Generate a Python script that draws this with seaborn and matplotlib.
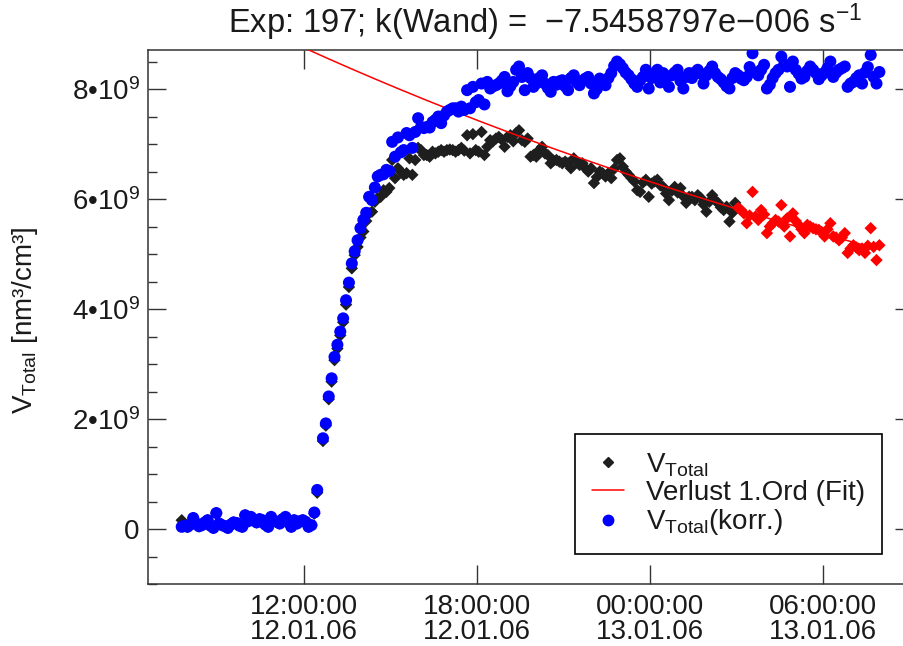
import numpy as np
import pandas as pd
import matplotlib
matplotlib.use("Agg")
import matplotlib.pyplot as plt
import matplotlib.dates as mdates
from matplotlib.lines import Line2D
from matplotlib.ticker import MultipleLocator, FixedLocator, FuncFormatter
import seaborn as sns

# ---- measurement data -------------------------------------------------
exp_no = 197
start_time = "2006-01-12 07:45:30"      # first sample
sample_step = "6min"                     # sampling interval
fit_start = "2006-01-13 03:00:00"        # begin of the fit window (red)
fit_ref_time = "2006-01-12 12:00:00"     # reference time of fit amplitude
fit_amplitude = 8.75                     # 1e9 nm³/cm³ at fit_ref_time
k_wand = -7.5458797e-6                   # wall loss rate, s^-1

# total volume concentration, 1e9 nm³/cm³
v_total = [
    0.16, 0.06, 0.04, 0.08, 0.20, 0.10, 0.05, 0.07, 0.12, 0.16,
    0.06, 0.02, 0.29, 0.10, 0.07, 0.05, 0.02, 0.08, 0.12, 0.11,
    0.06, 0.04, 0.25, 0.14, 0.22, 0.16, 0.12, 0.18, 0.16, 0.08,
    0.04, 0.22, 0.15, 0.13, 0.10, 0.18, 0.22, 0.12, 0.04, 0.16,
    0.10, 0.14, 0.16, 0.13, 0.04, 0.07, 0.28, 0.66, np.nan, 1.60,
    1.88, 2.36, 2.68, 3.07, 3.28, 3.52, 3.76, 4.08, 4.40, 4.74,
    4.98, 5.13, 5.30, 5.41, 5.60, 5.74, 5.77, 5.95, 6.02, 6.04,
    6.16, 6.13, 6.20, 6.71, 6.38, 6.56, 6.50, 6.44, 6.47, 6.74,
    6.44, 6.71, 6.93, 6.89, 6.80, 6.80, 6.77, 6.86, 6.83, 6.86,
    6.89, 6.86, 6.89, 6.90, 6.89, 6.86, 6.89, 6.93, 6.88, 7.16,
    6.83, 7.18, 6.89, 6.86, 7.22, 6.80, 6.95, 7.07, 7.05, 7.10,
    7.13, 7.08, 6.95, 7.13, 7.16, 7.05, 7.20, 7.25, 7.07, 7.04,
    7.10, 6.77, 6.80, 6.77, 6.89, 6.95, 6.83, 6.80, 6.65, 6.70,
    6.71, 6.68, 6.65, 6.68, 6.65, 6.56, 6.74, 6.68, 6.62, 6.65,
    6.56, 6.50, 6.56, 6.29, 6.40, 6.50, 6.47, 6.41, 6.47, 6.38,
    6.55, 6.71, 6.74, 6.59, 6.50, 6.44, 6.38, 6.32, 6.16, 6.13,
    6.30, 6.35, 6.04, 6.28, 6.32, 6.35, 6.25, 6.22, 6.10, 5.98,
    6.15, 6.22, 6.12, 6.20, 6.05, 5.93, 6.04, 6.04, 5.98, 6.07,
    6.02, 5.90, 5.77, 5.95, 6.07, 5.98, 5.93, 5.85, 5.80, 5.86,
    5.59, 5.75, 5.93, 5.84, 5.80, 5.74, 5.56, 5.70, 6.13, 5.68,
    5.62, 5.80, 5.72, 5.38, 5.50, 5.56, 5.62, 5.59, 5.89, 5.50,
    5.65, 5.32, 5.74, 5.60, 5.53, 5.45, 5.38, 5.53, 5.50, 5.47,
    5.45, 5.44, 5.40, 5.32, 5.45, 5.56, 5.32, 5.30, 5.25, 5.30,
    5.38, 5.02, 5.10, 5.16, 5.12, 5.07, 5.10, 5.02, 5.15, 5.47,
    5.13, 4.89, 5.16,
]

# wall-loss corrected total volume, 1e9 nm³/cm³
v_korr = [
    0.04, 0.06, 0.04, 0.08, 0.20, 0.10, 0.05, 0.07, 0.12, 0.16,
    0.06, 0.02, 0.29, 0.10, 0.07, 0.05, 0.02, 0.08, 0.12, 0.11,
    0.06, 0.04, 0.25, 0.14, 0.22, 0.16, 0.12, 0.18, 0.16, 0.08,
    0.04, 0.22, 0.15, 0.13, 0.10, 0.18, 0.22, 0.12, 0.04, 0.16,
    0.10, 0.14, 0.16, 0.13, 0.04, 0.07, 0.30, 0.71, np.nan, 1.65,
    1.92, 2.41, 2.74, 3.13, 3.35, 3.59, 3.83, 4.16, 4.48, 4.83,
    5.05, 5.25, 5.47, 5.62, 5.75, 6.04, 5.98, 6.21, 6.41, 6.44,
    6.45, 6.53, 6.51, 7.04, 6.77, 7.12, 6.85, 6.89, 7.20, 7.16,
    6.93, 7.22, 7.47, 7.31, 7.29, 7.31, 7.30, 7.40, 7.44, 7.50,
    7.38, 7.52, 7.59, 7.62, 7.65, 7.65, 7.59, 7.68, 7.62, 7.98,
    7.65, 8.04, 7.76, 7.80, 8.10, 7.72, 8.13, 8.01, 8.05, 8.07,
    8.10, 8.15, 8.22, 7.96, 8.05, 8.13, 8.35, 8.41, 8.22, 7.98,
    8.29, 8.20, 8.04, 8.10, 8.20, 8.25, 8.10, 8.02, 7.95, 8.13,
    8.08, 8.14, 8.16, 8.05, 7.98, 8.20, 8.25, 8.12, 8.07, 8.15,
    8.19, 8.22, 8.10, 7.92, 8.00, 8.19, 8.12, 8.07, 8.20, 8.29,
    8.42, 8.50, 8.45, 8.38, 8.30, 8.25, 8.18, 8.10, 8.04, 8.16,
    8.22, 8.35, 8.01, 8.20, 8.28, 8.35, 8.12, 8.29, 8.20, 8.04,
    8.25, 8.30, 8.35, 8.15, 8.01, 8.22, 8.29, 8.20, 8.30, 8.35,
    8.28, 8.10, 8.25, 8.33, 8.41, 8.29, 8.22, 8.18, 8.12, 8.05,
    8.01, 8.20, 8.29, 8.25, 8.19, 8.16, 8.22, 8.40, 8.65, 8.30,
    8.25, 8.35, 8.44, 8.01, 8.08, 8.20, 8.29, 8.35, 8.59, 8.45,
    8.41, 8.04, 8.50, 8.35, 8.28, 8.19, 8.22, 8.33, 8.41, 8.35,
    8.29, 8.18, 8.25, 8.30, 8.38, 8.50, 8.22, 8.30, 8.35, 8.38,
    8.41, 8.04, 8.10, 8.13, 8.20, 8.25, 8.10, 8.30, 8.40, 8.62,
    8.22, 8.10, 8.31,
]

x_tick_times = ["2006-01-12 12:00", "2006-01-12 18:00",
                "2006-01-13 00:00", "2006-01-13 06:00"]
x_limits = ["2006-01-12 06:35:20", "2006-01-13 09:07:30"]
y_ticks = [0, 2, 4, 6, 8]
y_limits = [-1.0, 8.71]

# ---- tables -----------------------------------------------------------
times = pd.date_range(start_time, periods=len(v_total), freq=sample_step)
df = pd.DataFrame({"time": times,
                   "v_total": np.array(v_total) * 1e9,
                   "v_korr": np.array(v_korr) * 1e9})
in_fit = df["time"] >= pd.Timestamp(fit_start)
df_pre = df[~in_fit]
df_fit = df[in_fit]

# first-order loss fit curve V(t) = A * exp(k * (t - t_ref))
fit_t = df["time"][df["time"] >= pd.Timestamp(fit_ref_time)]
dt_s = (fit_t - pd.Timestamp(fit_ref_time)).dt.total_seconds()
fit_df = pd.DataFrame({"time": fit_t,
                       "fit": fit_amplitude * 1e9 * np.exp(k_wand * dt_s)})

# ---- style ------------------------------------------------------------
sns.set_theme(style="white")
plt.rcParams["font.family"] = ["Liberation Sans", "DejaVu Sans"]
plt.rcParams["mathtext.fontset"] = "custom"
plt.rcParams["mathtext.rm"] = "Liberation Sans"
plt.rcParams["mathtext.it"] = "Liberation Sans"
plt.rcParams["axes.unicode_minus"] = True

W, H = 904, 646
fig = plt.figure(figsize=(W / 100, H / 100), dpi=100)
ax = fig.add_axes([148 / W, 1 - 584 / H, (913 - 148) / W, (584 - 50) / H])

diamond_black = "#1e1e1e"
sns.scatterplot(data=df_pre, x="time", y="v_total", marker="D", s=40,
                color=diamond_black, edgecolor="none", linewidth=0,
                ax=ax, zorder=2, legend=False)
sns.scatterplot(data=df_fit, x="time", y="v_total", marker="D", s=40,
                color="#ff0000", edgecolor="none", linewidth=0,
                ax=ax, zorder=2, legend=False)
sns.lineplot(data=fit_df, x="time", y="fit", color="#ff0000", lw=1.1,
             ax=ax, zorder=3, legend=False)
sns.scatterplot(data=df, x="time", y="v_korr", marker="o", s=75,
                color="#0000ff", edgecolor="none", linewidth=0,
                ax=ax, zorder=4, legend=False)

# ---- axes -------------------------------------------------------------
ax.set_xlim(pd.Timestamp(x_limits[0]), pd.Timestamp(x_limits[1]))
ax.set_ylim(y_limits[0] * 1e9, y_limits[1] * 1e9)
ax.set_xlabel("")
ax.set_ylabel("")

ax.xaxis.set_major_locator(FixedLocator(
    [mdates.date2num(pd.Timestamp(t)) for t in x_tick_times]))
ax.xaxis.set_major_formatter(mdates.DateFormatter("%H:%M:%S\n%d.%m.%y"))

ax.yaxis.set_major_locator(FixedLocator([v * 1e9 for v in y_ticks]))
ax.yaxis.set_minor_locator(MultipleLocator(0.5e9))


def y_fmt(v, pos):
    n = int(round(v / 1e9))
    return "0" if n == 0 else f"{n}•10$^{{9}}$"


ax.yaxis.set_major_formatter(FuncFormatter(y_fmt))

spine_col = "#333333"
for sp in ax.spines.values():
    sp.set_color(spine_col)
    sp.set_linewidth(1.1)

ax.tick_params(axis="both", which="both", direction="in", color=spine_col,
               width=1.0, labelcolor="#1a1a1a", labelsize=20)
ax.tick_params(axis="y", which="major", length=13, left=True, right=True, pad=6)
ax.tick_params(axis="y", which="minor", length=6.5, left=True, right=False)
ax.tick_params(axis="x", which="major", length=14, bottom=True, top=True, pad=7)
for lbl in ax.get_xticklabels():
    lbl.set_linespacing(0.95)

# ---- texts ------------------------------------------------------------
k_exp = int(np.floor(np.log10(abs(k_wand))))
k_mant = abs(k_wand) / 10.0 ** k_exp
sign = "\u2212" if k_exp < 0 else ""
k_text = f"\u2212{k_mant:.7f}e{sign}{abs(k_exp):03d}"
fig.text(545 / W, 1 - 22 / H,
         f"Exp: {exp_no}; k(Wand) =  {k_text} s$^{{-1}}$",
         ha="center", va="center", fontsize=23.5, color="#1a1a1a")
fig.text(25 / W, 1 - 320 / H, "V$_{Total}$ [nm³/cm³]", rotation=90,
         ha="center", va="center", fontsize=20, color="#1a1a1a")

handles = [
    Line2D([], [], marker="D", ls="none", color=diamond_black, markersize=4.8),
    Line2D([], [], color="#ff0000", lw=1.1),
    Line2D([], [], marker="o", ls="none", color="#0000ff", markersize=7.5),
]
labels = ["V$_{Total}$", "Verlust 1.Ord (Fit)", "V$_{Total}$(korr.)"]
leg = ax.legend(handles, labels, loc="lower left",
                bbox_to_anchor=((575 - 148) / 765, (584 - 554) / 534),
                borderaxespad=0, fontsize=20, frameon=True, fancybox=False,
                framealpha=1, edgecolor="black", handlelength=1.15,
                handletextpad=0.8, borderpad=0.6, labelspacing=0.05)
leg.get_frame().set_linewidth(1.2)
for t in leg.get_texts():
    t.set_color("#1a1a1a")

fig.savefig("out.png", dpi=100, facecolor="white")
